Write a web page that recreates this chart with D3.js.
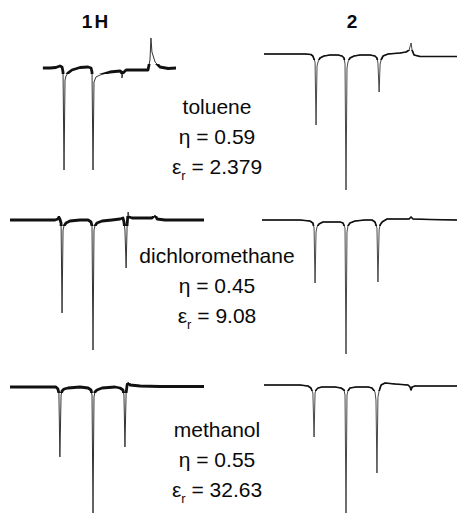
<!DOCTYPE html>
<html>
<head>
<meta charset="utf-8">
<script src="https://cdn.jsdelivr.net/npm/d3@7"></script>
<style>
  html, body { margin: 0; padding: 0; background: #fff; }
  svg { display: block; }
  text { font-family: "Liberation Sans", Arial, sans-serif; fill: #0a0a0a; }
</style>
</head>
<body>
<svg id="chart" width="458" height="515"></svg>
<script>
// ---- data (field offset in G, relative intensity) ----
const compounds = ["1H", "2"];
const solvents = ["toluene", "dichloromethane", "methanol"];
const viscosity = ["0.59", "0.45", "0.55"];
const permittivity = ["2.379", "9.08", "32.63"];

const toluene1H = [[-25.4,0],[-21.8,0],[-18.8,0.5],[-16.8,2],[-15.7,1],[-15.2,-4],[-14.7,-102],[-14.2,-12],[-13.7,-8],[-12.7,-5],[-10.7,-2],[-6.6,0.5],[-2.5,1],[-1.0,0],[-0.5,-4],[0,-102],[0.5,-14],[1.5,-9],[3.6,-7],[8.6,-4],[13.7,-3],[14.5,-4],[14.7,-10],[15.2,-5],[16.8,-2],[23.9,-2],[27.9,-2],[28.9,8],[29.4,30],[29.9,16],[31.5,6],[34.0,1],[38.1,-0.5],[42.1,0]];
const toluene2 = [[-41.6,0],[-28.4,0],[-20.8,0],[-17.8,-0.5],[-16.8,-2],[-15.7,-8],[-15.2,-71],[-14.7,-12],[-14.2,-8],[-13.2,-4],[-11.2,-2],[-8.1,-1],[-4.1,-1],[-2.0,-2],[-1.0,-4],[-0.5,-10],[0,-136],[0.5,-14],[1.0,-8],[2.0,-4],[4.1,-2],[7.1,-1],[12.2,-1],[14.7,-2],[15.7,-4],[16.2,-9],[16.8,-38],[17.3,-10],[17.8,-6],[18.8,-2],[21.3,0],[27.4,1],[30.5,2],[32.0,4],[33.0,11],[33.5,4],[34.5,-1],[37.6,-2.5],[56.3,-2.5]];
const dcm1H = [[-42.1,0],[-26.9,0],[-19.3,0],[-17.8,1],[-17.3,3],[-16.8,1],[-16.2,-3],[-15.7,-93],[-15.2,-10],[-14.7,-6],[-13.7,-3],[-11.7,-1],[-6.6,0],[-2.5,0],[-1.0,-2],[-0.5,-6],[0,-130],[0.5,-10],[1.0,-6],[2.0,-3],[4.6,-1],[9.6,0],[13.7,1],[15.2,2],[15.7,-2],[16.2,-10],[16.8,-48],[17.3,-5],[17.8,8],[18.3,3],[19.8,2],[26.4,2],[29.9,2],[31.5,5],[32.5,1],[36.5,0],[56.3,0]];
const dcm2 = [[-42.6,0],[-23.4,0],[-18.3,-1],[-16.8,-3],[-16.2,-8],[-15.7,-63],[-15.2,-12],[-14.7,-7],[-13.7,-4],[-11.7,-2],[-8.1,-2],[-3.0,-2],[-1.5,-3],[-0.5,-8],[0,-134],[0.5,-12],[1.0,-6],[2.0,-3],[4.6,-1],[9.6,0],[13.2,0],[14.7,-2],[15.7,-8],[16.2,-62],[16.8,-10],[17.3,-5],[18.3,-2],[20.8,1],[27.4,1],[32.0,1],[33.0,3],[34.0,1],[42.6,0.5],[56.3,0]];
const meoh1H = [[-42.1,0],[-21.8,0],[-18.8,0],[-17.8,-2],[-17.3,-6],[-16.8,-70],[-16.2,-8],[-15.7,-4],[-14.7,-2],[-12.7,-1],[-6.6,0],[-2.5,-1],[-1.0,-3],[-0.5,-8],[0,-126],[0.5,-10],[1.0,-5],[2.0,-3],[4.6,-1],[11.2,0],[13.7,-1],[15.2,-3],[15.7,-8],[16.2,-60],[16.8,-6],[17.3,2],[17.8,5],[18.8,2],[23.9,1],[34.0,0.5],[56.3,0.5]];
const meoh2 = [[-41.6,0],[-23.4,0],[-19.3,-1],[-17.8,-3],[-16.8,-8],[-16.2,-52],[-15.7,-8],[-15.2,-5],[-14.2,-3],[-12.2,-2],[-5.6,-2],[-2.5,-3],[-1.0,-5],[-0.5,-10],[0,-128],[0.5,-10],[1.0,-6],[2.0,-3],[5.1,-2],[11.2,-2],[13.2,-3],[14.7,-7],[15.2,-15],[15.7,-88],[16.2,-12],[16.8,-6],[17.8,0],[19.8,2],[24.9,1],[31.5,0],[32.5,-2],[33.0,-5],[33.5,-2],[35.0,-1],[56.3,-1]];

const spectra = [
  [toluene1H, toluene2],
  [dcm1H, dcm2],
  [meoh1H, meoh2]
];

// ---- layout ----
const svg = d3.select("#chart");
const defs = svg.append("defs");
const fieldDomain = [-42.1, 56.3];
const xCols = [
  d3.scaleLinear().domain(fieldDomain).range([10, 204]),
  d3.scaleLinear().domain(fieldDomain).range([263, 457])
];
const baselines = [[68, 54], [220, 220], [387, 385]];
const thickW = [2.8, 1.7];
const thinW = [1.0, 0.9];
const textY = [114, 263, 437];

// column headers
svg.append("text").attr("x", 96).attr("y", 28).attr("text-anchor", "middle")
  .attr("font-size", 19).attr("font-weight", "bold").attr("letter-spacing", 2).text(compounds[0]);
svg.append("text").attr("x", 352).attr("y", 28).attr("text-anchor", "middle")
  .attr("font-size", 19).attr("font-weight", "bold").text(compounds[1]);

spectra.forEach((row, r) => {
  row.forEach((data, c) => {
    const b = baselines[r][c];
    const y = d3.scaleLinear().domain([0, -100]).range([b, b + 100]);
    const line = d3.line().x(d => xCols[c](d[0])).y(d => y(d[1]));
    const id = "band" + r + c;
    defs.append("clipPath").attr("id", id).append("rect")
      .attr("x", 0).attr("width", 458)
      .attr("y", b - 4).attr("height", 10);
    svg.append("path").datum(data)
      .attr("d", line)
      .attr("fill", "none")
      .attr("stroke", "#333")
      .attr("stroke-width", thinW[c])
      .attr("stroke-linejoin", "round");
    svg.append("path").datum(data)
      .attr("d", line)
      .attr("fill", "none")
      .attr("stroke", "#111")
      .attr("stroke-width", thickW[c])
      .attr("stroke-linejoin", "round")
      .attr("clip-path", "url(#" + id + ")");
  });

  const g = svg.append("g").attr("font-size", 21).attr("text-anchor", "middle");
  g.append("text").attr("x", 217).attr("y", textY[r]).text(solvents[r]);
  g.append("text").attr("x", 217).attr("y", textY[r] + 30).text("η = " + viscosity[r]);
  const t = g.append("text").attr("x", 217).attr("y", textY[r] + 60);
  t.append("tspan").text("ε");
  t.append("tspan").attr("dy", 6).attr("font-size", 13).text("r");
  t.append("tspan").attr("dy", -6).text(" = " + permittivity[r]);
});
</script>
</body>
</html>
